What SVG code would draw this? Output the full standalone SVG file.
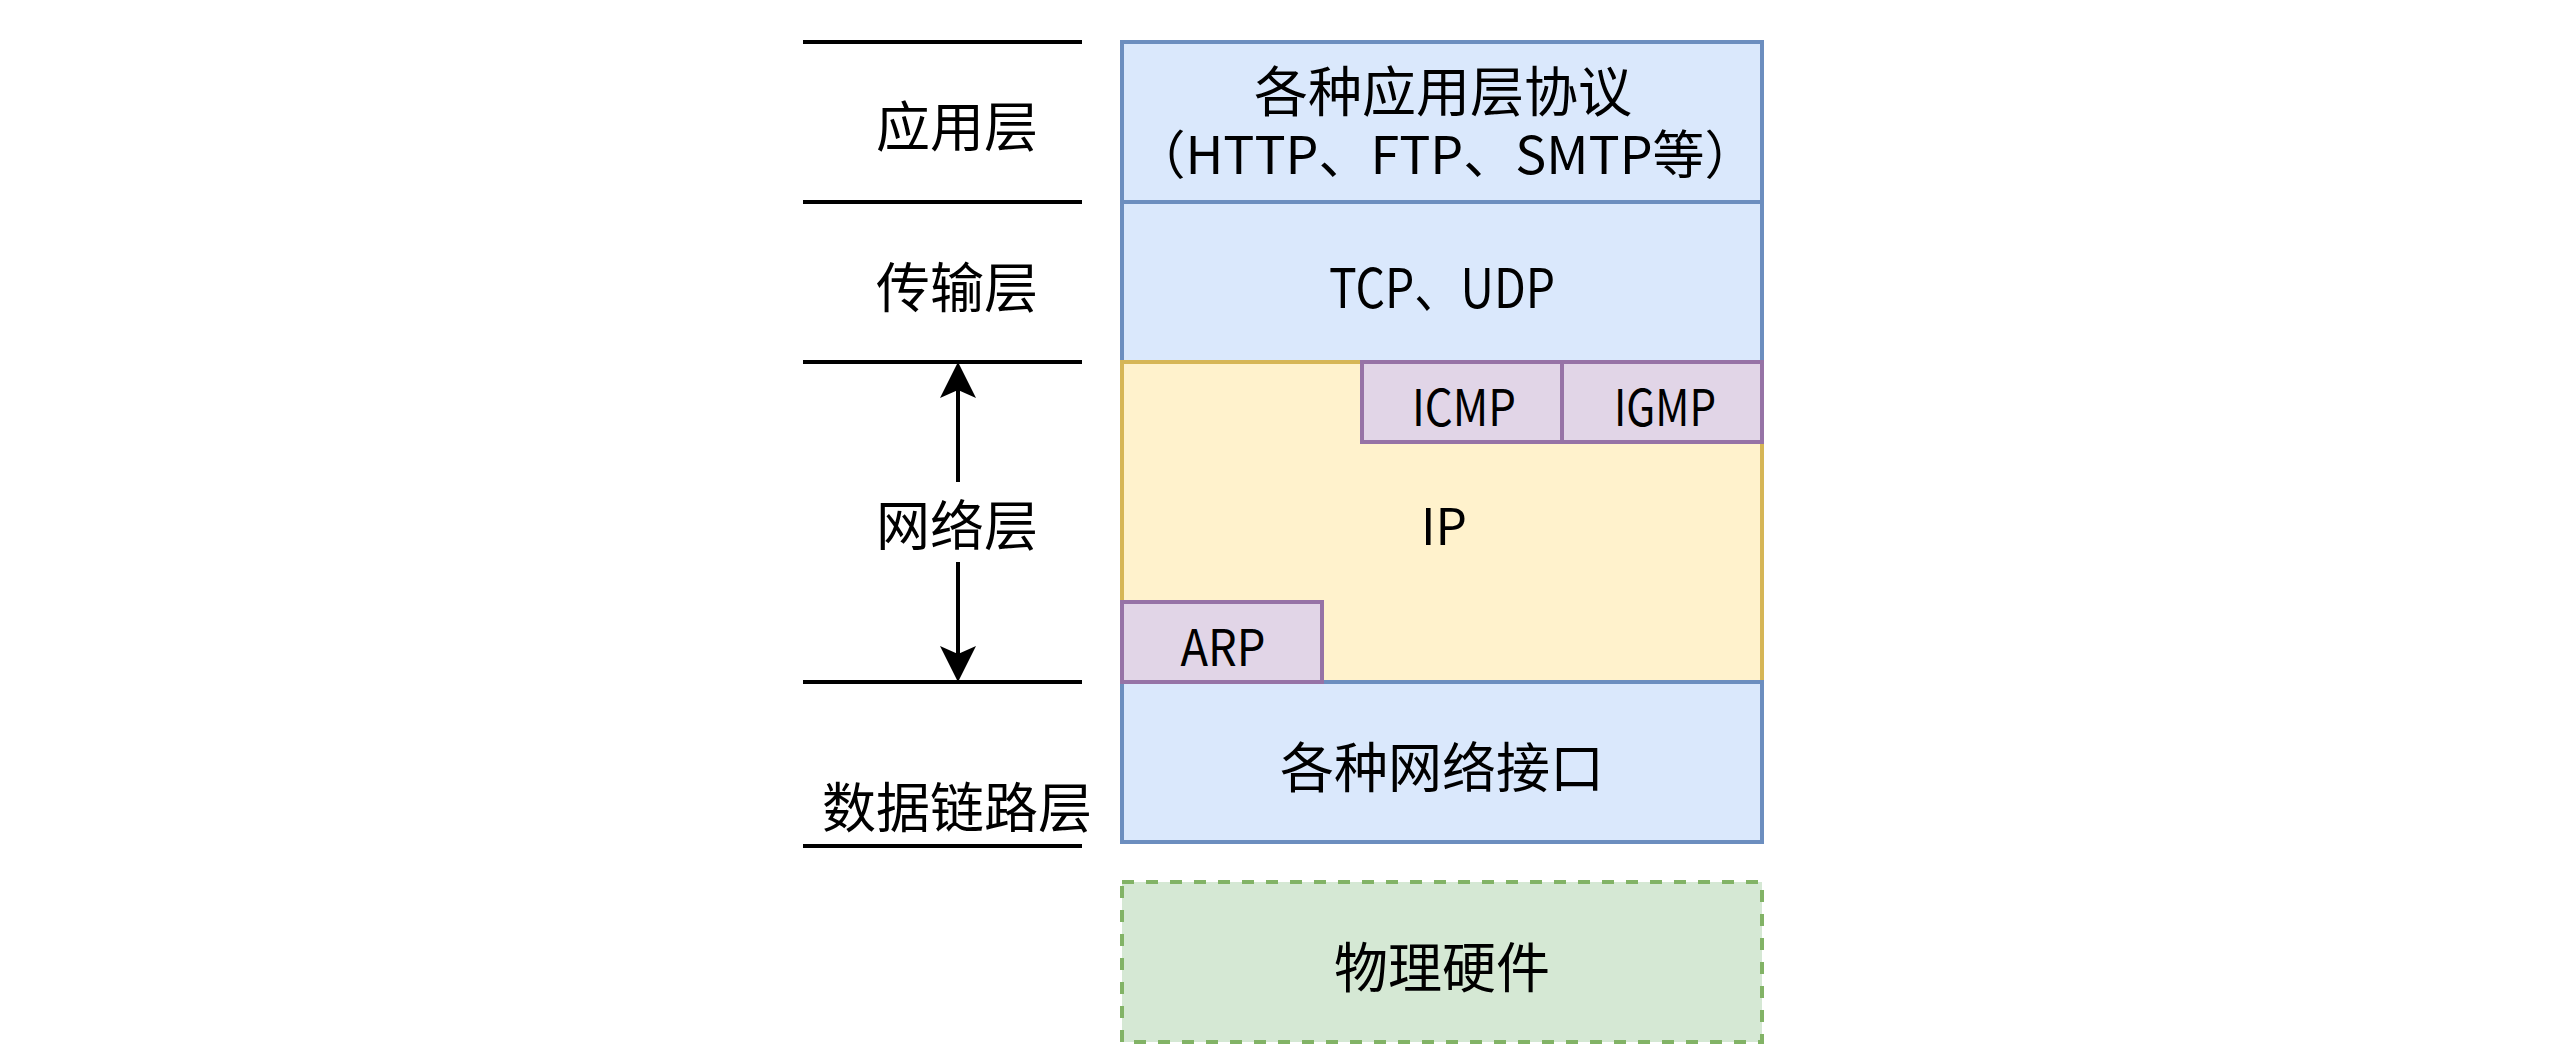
<svg xmlns="http://www.w3.org/2000/svg" width="2564" height="1044" viewBox="0 0 2564 1044">
<style>
.t{font-family:"Noto Sans CJK SC","Noto Sans",sans-serif;font-size:54px;fill:#000;text-anchor:middle;dominant-baseline:central}
.lat{font-size:50px}
.blue{fill:#dae8fc;stroke:#6c8ebf;stroke-width:4}
.yel{fill:#fff2cc;stroke:#d6b656;stroke-width:4}
.pur{fill:#e1d5e7;stroke:#9673a6;stroke-width:4}
.grn{fill:#d5e8d4;stroke:#82b366;stroke-width:4;stroke-dasharray:12 12}
.sep{stroke:#000;stroke-width:4;fill:none}
.conn{stroke:#000;stroke-width:4;fill:none}
</style>
<defs>
<marker id="arr" viewBox="0 0 36 36" refX="8" refY="18" markerWidth="36" markerHeight="36" markerUnits="userSpaceOnUse" orient="auto">
<path d="M0,0 L36,18 L0,36 L8,18 Z" fill="#000"/>
</marker>
</defs>
<rect width="2564" height="1044" fill="#fff"/>
<g id="separators">
<line class="sep" x1="803" y1="42" x2="1082" y2="42"/>
<line class="sep" x1="803" y1="202" x2="1082" y2="202"/>
<line class="sep" x1="803" y1="362" x2="1082" y2="362"/>
<line class="sep" x1="803" y1="682" x2="1082" y2="682"/>
<line class="sep" x1="803" y1="846" x2="1082" y2="846"/>
</g>
<g id="label-app"><text class="t" x="957" y="123">应用层</text></g>
<g id="label-transport"><text class="t" x="957" y="284">传输层</text></g>
<g id="label-network"><text class="t" x="957" y="522">网络层</text></g>
<g id="label-datalink"><text class="t" x="957" y="804">数据链路层</text></g>
<g id="node-app">
<rect class="blue" x="1122" y="42" width="640" height="160"/>
<text class="t"><tspan x="1443" y="88">各种应用层协议</tspan><tspan x="1445" y="151" font-size="52">（HTTP、FTP、SMTP等）</tspan></text>
</g>
<g id="node-transport">
<rect class="blue" x="1122" y="202" width="640" height="160"/>
<text class="t" x="1442" y="284" textLength="226" lengthAdjust="spacingAndGlyphs">TCP、UDP</text>
</g>
<g id="node-ip">
<rect class="yel" x="1122" y="362" width="640" height="320"/>
<text class="t lat" x="1444" y="523" textLength="46" lengthAdjust="spacingAndGlyphs">IP</text>
</g>
<g id="node-datalink">
<rect class="blue" x="1122" y="682" width="640" height="160"/>
<text class="t" x="1442" y="764">各种网络接口</text>
</g>
<g id="node-icmp">
<rect class="pur" x="1362" y="362" width="200" height="80"/>
<text class="t lat" x="1464" y="404" textLength="104" lengthAdjust="spacingAndGlyphs">ICMP</text>
</g>
<g id="node-igmp">
<rect class="pur" x="1562" y="362" width="200" height="80"/>
<text class="t lat" x="1665" y="404" textLength="102" lengthAdjust="spacingAndGlyphs">IGMP</text>
</g>
<g id="node-arp">
<rect class="pur" x="1122" y="602" width="200" height="80"/>
<text class="t lat" x="1223" y="644" textLength="85" lengthAdjust="spacingAndGlyphs">ARP</text>
</g>
<g id="node-physical">
<rect class="grn" x="1122" y="882" width="640" height="160"/>
<text class="t" x="1442" y="964">物理硬件</text>
</g>
<g id="connectors">
<path class="conn" d="M958,482 L958,390" marker-end="url(#arr)"/>
<path class="conn" d="M958,562 L958,654" marker-end="url(#arr)"/>
</g>
</svg>
